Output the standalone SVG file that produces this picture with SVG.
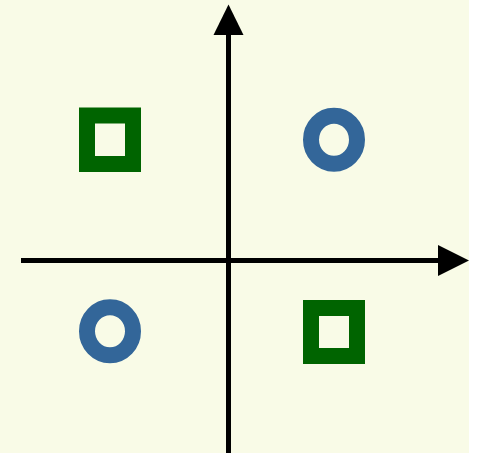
<svg xmlns="http://www.w3.org/2000/svg" width="481" height="453" viewBox="0 0 481 453">
<style>
.sq{fill:none;stroke:#006400;stroke-width:16}
.ci{fill:none;stroke:#336699;stroke-width:16}
.ax{stroke:#000;stroke-width:5;fill:none}
.ah{fill:#000}
</style>
<rect x="0" y="0" width="469" height="453" fill="#f9fbe7"/>
<g id="connectors">
<line class="ax" x1="21" y1="260.5" x2="440" y2="260.5"/>
<polygon class="ah" points="438,245 469,260.5 438,276"/>
<line class="ax" x1="228.5" y1="453" x2="228.5" y2="33"/>
<polygon class="ah" points="213.5,35 228.5,4.5 243.5,35"/>
</g>
<g id="square-tl"><rect class="sq" x="87" y="115.5" width="46" height="48.5"/></g>
<g id="circle-tr"><ellipse class="ci" cx="334" cy="139.7" rx="23" ry="24"/></g>
<g id="circle-bl"><ellipse class="ci" cx="110" cy="331.3" rx="23" ry="24"/></g>
<g id="square-br"><rect class="sq" x="311" y="308" width="46" height="48"/></g>
</svg>
